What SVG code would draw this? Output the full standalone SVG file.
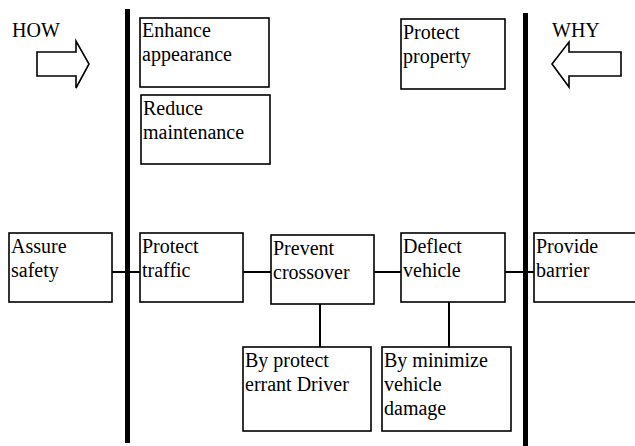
<svg xmlns="http://www.w3.org/2000/svg" width="635" height="446" viewBox="0 0 635 446">
<style>
.box{fill:#fff;stroke:#000;stroke-width:1.6}
.t{font-family:"Liberation Serif","Times New Roman",serif;font-size:20px;fill:#000}
.c{stroke:#000;stroke-width:2;fill:none}
.bar{stroke:#000;stroke-width:5}
.arr{fill:#fff;stroke:#000;stroke-width:1.6;stroke-linejoin:miter}
</style>
<rect width="635" height="446" fill="#fff"/>
<g id="bars">
<line class="bar" x1="127.5" y1="9" x2="127.5" y2="443"/>
<line class="bar" x1="525.5" y1="13" x2="525.5" y2="446"/>
</g>
<g id="connectors">
<line class="c" x1="112" y1="272" x2="140" y2="272"/>
<line class="c" x1="243" y1="272" x2="271" y2="272"/>
<line class="c" x1="374" y1="272" x2="401" y2="272"/>
<line class="c" x1="505" y1="272" x2="534" y2="272"/>
<line class="c" x1="320" y1="304" x2="320" y2="347"/>
<line class="c" x1="449" y1="302" x2="449" y2="347"/>
</g>
<g id="how">
<text class="t" x="12" y="37">HOW</text>
<polygon class="arr" points="37,52 76,52 76,41 89,64 76,88 76,76 37,76"/>
</g>
<g id="why">
<text class="t" x="552" y="37">WHY</text>
<polygon class="arr" points="621,52 569,52 569,42 552,64 569,87 569,76 621,76"/>
</g>
<g id="enhance">
<rect class="box" x="140" y="18" width="129" height="69"/>
<text class="t" x="142" y="37">Enhance</text>
<text class="t" x="142" y="61">appearance</text>
</g>
<g id="reduce">
<rect class="box" x="141" y="95" width="129" height="69"/>
<text class="t" x="143" y="115">Reduce</text>
<text class="t" x="143" y="139">maintenance</text>
</g>
<g id="property">
<rect class="box" x="401" y="19" width="104" height="70"/>
<text class="t" x="403" y="39">Protect</text>
<text class="t" x="403" y="63">property</text>
</g>
<g id="assure">
<rect class="box" x="9" y="233" width="103" height="69"/>
<text class="t" x="11" y="253">Assure</text>
<text class="t" x="11" y="277">safety</text>
</g>
<g id="traffic">
<rect class="box" x="140" y="233" width="103" height="69"/>
<text class="t" x="142" y="253">Protect</text>
<text class="t" x="142" y="277">traffic</text>
</g>
<g id="crossover">
<rect class="box" x="271" y="235" width="103" height="69"/>
<text class="t" x="273" y="255">Prevent</text>
<text class="t" x="273" y="279">crossover</text>
</g>
<g id="deflect">
<rect class="box" x="401" y="233" width="104" height="69"/>
<text class="t" x="403" y="253">Deflect</text>
<text class="t" x="403" y="277">vehicle</text>
</g>
<g id="barrier">
<rect class="box" x="534" y="233" width="110" height="69"/>
<text class="t" x="536" y="253">Provide</text>
<text class="t" x="536" y="277">barrier</text>
</g>
<g id="driver">
<rect class="box" x="243" y="347" width="128" height="84"/>
<text class="t" x="245" y="367">By protect</text>
<text class="t" x="245" y="391">errant Driver</text>
</g>
<g id="damage">
<rect class="box" x="382" y="347" width="129" height="84"/>
<text class="t" x="384" y="367">By minimize</text>
<text class="t" x="384" y="391">vehicle</text>
<text class="t" x="384" y="415">damage</text>
</g>
</svg>
